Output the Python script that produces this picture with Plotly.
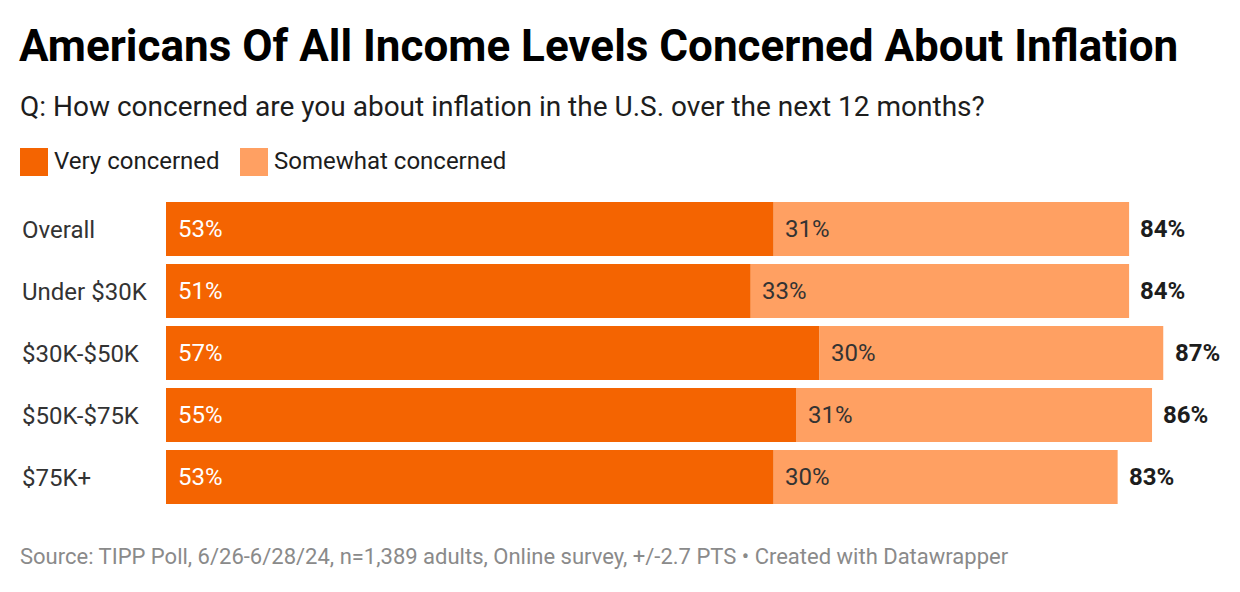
import plotly.graph_objects as go

categories = ["Overall", "Under $30K", "$30K-$50K", "$50K-$75K", "$75K+"]
very = [53, 51, 57, 55, 53]
somewhat = [31, 33, 30, 31, 30]
totals = [84, 84, 87, 86, 83]
series_names = ["Very concerned", "Somewhat concerned"]
colors = ["#F46401", "#FFA062"]

W, H = 1240, 592
FONT = "Roboto"

fig = go.Figure()
fig.add_trace(go.Bar(y=categories, x=very, orientation="h", name=series_names[0],
                     marker=dict(color=colors[0], line=dict(width=0)), hoverinfo="skip"))
fig.add_trace(go.Bar(y=categories, x=somewhat, base=very, orientation="h", name=series_names[1],
                     marker=dict(color=colors[1], line=dict(width=0)), hoverinfo="skip"))


def px(x):
    return x / W


def py(y):
    return 1 - y / H


ann = []
for i, c in enumerate(categories):
    ann.append(dict(x=0, y=c, xref="x", yref="y", text=f"{very[i]}%", showarrow=False,
                    xanchor="left", xshift=10, font=dict(family=FONT, size=24, color="#ffffff")))
    ann.append(dict(x=very[i], y=c, xref="x", yref="y", text=f"{somewhat[i]}%", showarrow=False,
                    xanchor="left", xshift=9, font=dict(family=FONT, size=24, color="#333333")))
    ann.append(dict(x=totals[i], y=c, xref="x", yref="y", text=f"<b>{totals[i]}%</b>", showarrow=False,
                    xanchor="left", xshift=9, font=dict(family=FONT, size=24, color="#1d1d1d")))
    ann.append(dict(x=px(20), y=c, xref="paper", yref="y", yshift=-1, text=c, showarrow=False,
                    xanchor="left", font=dict(family=FONT, size=24, color="#333333")))

# Title, subtitle, footer
ann.append(dict(x=px(17), y=py(46), xref="paper", yref="paper",
                text="<b>Americans Of All Income Levels Concerned About Inflation</b>",
                showarrow=False, xanchor="left", yanchor="middle",
                font=dict(family=FONT, size=44, color="#000000")))
ann.append(dict(x=px(18), y=py(107), xref="paper", yref="paper",
                text="Q: How concerned are you about inflation in the U.S. over the next 12 months?",
                showarrow=False, xanchor="left", yanchor="middle",
                font=dict(family=FONT, size=28, color="#1d1d1d")))
ann.append(dict(x=px(18), y=py(556), xref="paper", yref="paper",
                text="Source: TIPP Poll, 6/26-6/28/24, n=1,389 adults, Online survey, +/-2.7 PTS • Created with Datawrapper",
                showarrow=False, xanchor="left", yanchor="middle",
                font=dict(family=FONT, size=22, color="#8a8a8a")))

# Legend (custom)
shapes = []
leg_x = [20, 240]
for k, name in enumerate(series_names):
    x0 = leg_x[k]
    shapes.append(dict(type="rect", xref="paper", yref="paper", x0=px(x0), x1=px(x0 + 28),
                       y0=py(176), y1=py(148), fillcolor=colors[k], line=dict(width=0)))
    ann.append(dict(x=px(x0 + 32), y=py(161), xref="paper", yref="paper", text=name, showarrow=False,
                    xanchor="left", yanchor="middle", font=dict(family=FONT, size=24, color="#1d1d1d")))

plot_top = 198
plot_bot = 508
fig.update_layout(
    width=W, height=H, barmode="overlay", bargap=8 / 62, showlegend=False,
    paper_bgcolor="white", plot_bgcolor="white",
    margin=dict(l=0, r=0, t=0, b=0, pad=0),
    xaxis=dict(range=[0, 87], domain=[px(166), px(1163.5)], visible=False, fixedrange=True),
    yaxis=dict(categoryorder="array", categoryarray=categories, autorange="reversed",
               domain=[py(plot_bot), py(plot_top)], visible=False, fixedrange=True),
    annotations=ann, shapes=shapes,
    font=dict(family=FONT),
)
fig.write_html("out.html", config={"displayModeBar": False},
               post_script="document.body.style.margin='0px';")
